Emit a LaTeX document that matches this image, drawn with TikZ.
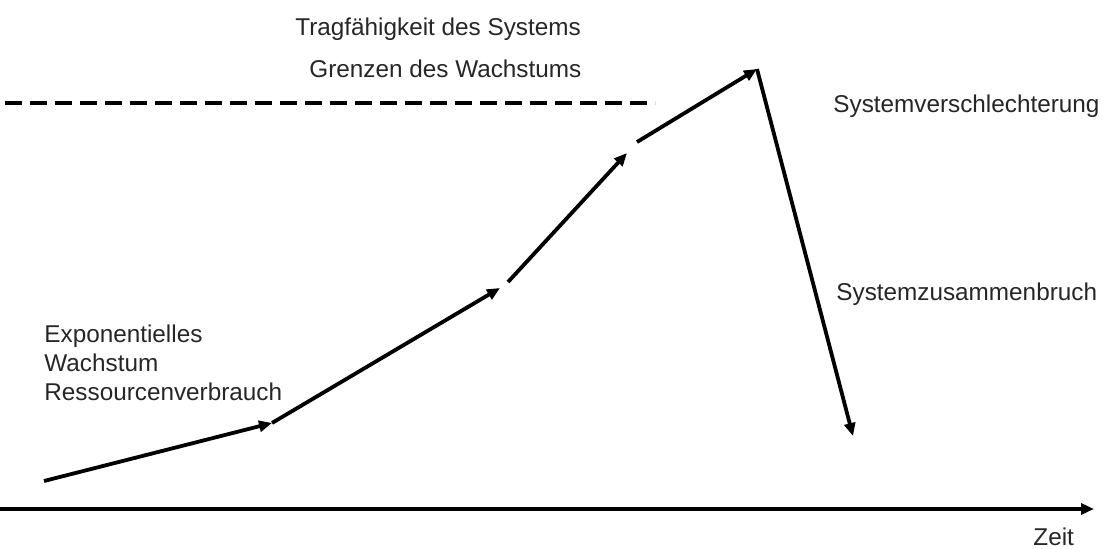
\documentclass[tikz,border=0pt]{standalone}
\usepackage{fontspec}
\setmainfont{Liberation Sans}
\usetikzlibrary{arrows.meta}
\begin{document}
\begin{tikzpicture}[x=0.5pt,y=-0.5pt,
  seg/.style={line width=1.9pt, -{Triangle[length=6.5pt,width=5.5pt]}},
  lbl/.style={anchor=base west, inner sep=0pt, font=\fontsize{12.15}{14.5}\selectfont, text=black!85}]
\useasboundingbox (0,0) rectangle (1103,548);
% points
\coordinate (p0) at (44,481);
\coordinate (p1) at (272,423);
\coordinate (p2) at (500,288);
\coordinate (p3) at (508,282);
\coordinate (p4) at (627,153);
\coordinate (p5) at (637,142);
\coordinate (p6) at (757,69);
\coordinate (p7) at (853,436);
\coordinate (ax0) at (0,509);
\coordinate (ax1) at (1094,509);
\coordinate (d0) at (5,103);
\coordinate (d1) at (655,103);
% curve
\draw[seg] (p0) -- (p1);
\draw[seg] (p1) -- (p2);
\draw[seg] (p3) -- (p4);
\draw[seg] (p5) -- (p6);
\draw[seg] (p6) -- (p7);
% axis
\draw[seg] (ax0) -- (ax1);
% carrying capacity
\draw[line width=1.9pt, dash pattern=on 8.5pt off 4pt] (d0) -- (d1);
% labels
\node[lbl] (t1) at (295,35) {Tragfähigkeit des Systems};
\node[lbl] (t2) at (309,77) {Grenzen des Wachstums};
\node[lbl] (t3) at (833,112) {Systemverschlechterung};
\node[lbl] (t4) at (836,300) {Systemzusammenbruch};
\node[lbl] (t5a) at (44,342) {Exponentielles};
\node[lbl] (t5b) at (44,371) {Wachstum};
\node[lbl] (t5c) at (44,400) {Ressourcenverbrauch};
\node[lbl] (t6) at (1033,545) {Zeit};
\end{tikzpicture}
\end{document}
